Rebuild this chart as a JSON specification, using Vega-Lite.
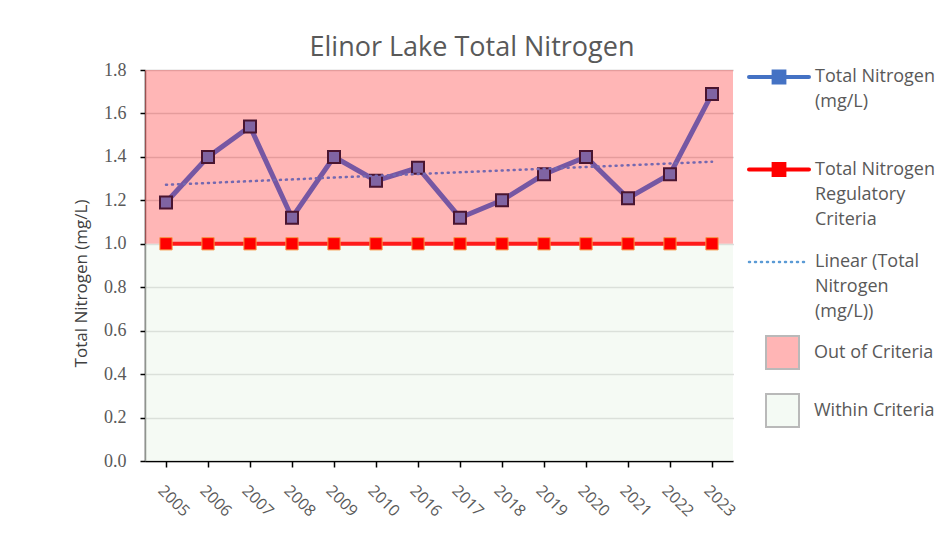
{
  "$schema": "https://vega.github.io/schema/vega-lite/v6.json",
  "width": 588,
  "height": 391,
  "autosize": "none",
  "padding": {"left": 145, "top": 70, "right": 205, "bottom": 86},
  "background": "white",
  "title": {
    "text": "Elinor Lake Total Nitrogen",
    "font": "Open Sans",
    "fontSize": 27,
    "fontWeight": "normal",
    "color": "#595959",
    "anchor": "middle",
    "dx": 33,
    "dy": 13,
    "offset": 12
  },
  "datasets": {
    "main": [
      {"year": "2005", "tn": 1.19, "criteria": 1.0},
      {"year": "2006", "tn": 1.40, "criteria": 1.0},
      {"year": "2007", "tn": 1.54, "criteria": 1.0},
      {"year": "2008", "tn": 1.12, "criteria": 1.0},
      {"year": "2009", "tn": 1.40, "criteria": 1.0},
      {"year": "2010", "tn": 1.29, "criteria": 1.0},
      {"year": "2016", "tn": 1.35, "criteria": 1.0},
      {"year": "2017", "tn": 1.12, "criteria": 1.0},
      {"year": "2018", "tn": 1.20, "criteria": 1.0},
      {"year": "2019", "tn": 1.32, "criteria": 1.0},
      {"year": "2020", "tn": 1.40, "criteria": 1.0},
      {"year": "2021", "tn": 1.21, "criteria": 1.0},
      {"year": "2022", "tn": 1.32, "criteria": 1.0},
      {"year": "2023", "tn": 1.69, "criteria": 1.0}
    ],
    "trend": [
      {"year": "2005", "trend": 1.272},
      {"year": "2023", "trend": 1.378}
    ],
    "zones": [
      {"zone": "Out of Criteria", "lo": 1.0, "hi": 1.8},
      {"zone": "Within Criteria", "lo": 0.0, "hi": 1.0}
    ],
    "series": [
      {"series": "Total Nitrogen (mg/L)"},
      {"series": "Total Nitrogen Regulatory Criteria"},
      {"series": "Linear (Total Nitrogen (mg/L))"}
    ]
  },
  "layer": [
    {
      "data": {"name": "zones"},
      "mark": {"type": "rect", "opacity": 0.6},
      "encoding": {
        "y": {
          "field": "lo", "type": "quantitative",
          "scale": {"domain": [0, 1.8], "nice": false, "zero": true},
          "axis": {
            "values": [0, 0.2, 0.4, 0.6, 0.8, 1.0, 1.2, 1.4, 1.6, 1.8],
            "format": ".1f",
            "title": "Total Nitrogen (mg/L)",
            "titleFont": "Open Sans",
            "titleFontSize": 17,
            "titleFontWeight": "normal",
            "titleColor": "#404040",
            "titleX": -55,
            "titleY": 213,
            "titleBaseline": "bottom",
            "labelFont": "Liberation Serif",
            "labelFontSize": 18,
            "labelColor": "#595959",
            "labelPadding": 14,
            "tickSize": 5,
            "tickColor": "#000000",
            "tickWidth": 1.5,
            "domainColor": "#000000",
            "domainWidth": 1.5,
            "grid": true,
            "gridColor": "#BEBEBE",
            "gridWidth": 1.5
          }
        },
        "y2": {"field": "hi"},
        "fill": {
          "field": "zone", "type": "nominal",
          "scale": {"domain": ["Out of Criteria", "Within Criteria"], "range": ["#FF8585", "#EEF7ED"]},
          "legend": {
            "orient": "none",
            "legendX": 620,
            "legendY": 265,
            "title": null,
            "symbolType": "square",
            "symbolSize": 1089,
            "symbolStrokeColor": "#8C8C8C",
            "symbolStrokeWidth": 2,
            "symbolOpacity": 0.6,
            "labelFont": "Open Sans",
            "labelFontSize": 18,
            "labelColor": "#595959",
            "labelOffset": 14,
            "rowPadding": 17,
            "encode": {
              "symbols": {
                "update": {
                  "opacity": {"value": 0.6},
                  "stroke": {"value": "#8C8C8C"}
                }
              }
            }
          }
        }
      }
    },
    {
      "data": {"name": "main"},
      "mark": {
        "type": "line",
        "color": "#7657A3",
        "strokeWidth": 5,
        "point": {"shape": "square", "filled": true, "fill": "#8064A2", "stroke": "#4A1530", "strokeWidth": 2, "size": 144, "opacity": 1}
      },
      "encoding": {
        "x": {
          "field": "year", "type": "ordinal",
          "scale": {"type": "point", "padding": 0.5},
          "axis": {
            "title": null,
            "labelAngle": 45,
            "labelAlign": "left",
            "labelBaseline": "top",
            "labelFont": "Open Sans",
            "labelFontSize": 16,
            "labelColor": "#595959",
            "labelPadding": 15,
            "tickSize": 6,
            "tickColor": "#000000",
            "tickWidth": 1.5,
            "domainColor": "#000000",
            "domainWidth": 1.5,
            "grid": false
          }
        },
        "y": {"field": "tn", "type": "quantitative"}
      }
    },
    {
      "data": {"name": "main"},
      "mark": {
        "type": "line",
        "color": "#FF1A1A",
        "strokeWidth": 4,
        "point": {"shape": "square", "filled": true, "fill": "#FF0000", "stroke": "#F79646", "strokeWidth": 1, "size": 150, "opacity": 1}
      },
      "encoding": {
        "x": {"field": "year", "type": "ordinal"},
        "y": {"field": "criteria", "type": "quantitative"}
      }
    },
    {
      "data": {"name": "trend"},
      "mark": {"type": "line", "color": "#7468B0", "strokeWidth": 2.5, "strokeDash": [1, 5], "strokeCap": "round"},
      "encoding": {
        "x": {"field": "year", "type": "ordinal"},
        "y": {"field": "trend", "type": "quantitative"}
      }
    },
    {
      "data": {"name": "series"},
      "mark": {"type": "line", "opacity": 0},
      "encoding": {
        "stroke": {
          "field": "series", "type": "nominal",
          "scale": {
            "domain": ["Total Nitrogen (mg/L)", "Total Nitrogen Regulatory Criteria", "Linear (Total Nitrogen (mg/L))"],
            "range": ["#4472C4", "#FF0000", "#5B9BD5"]
          },
          "legend": {
            "orient": "none",
            "legendX": 625,
            "legendY": -2,
            "title": null,
            "symbolSize": 3600,
            "symbolStrokeWidth": 4,
            "symbolOpacity": 1,
            "labelFont": "Open Sans",
            "labelFontSize": 18,
            "labelColor": "#595959",
            "labelOffset": 27,
            "labelLimit": 200,
            "labelBaseline": "top",
            "gridAlign": "all",
            "rowPadding": 19.5,
            "labelExpr": "datum.label == 'Total Nitrogen (mg/L)' ? ['Total Nitrogen', '(mg/L)'] : datum.label == 'Total Nitrogen Regulatory Criteria' ? ['Total Nitrogen', 'Regulatory', 'Criteria'] : ['Linear (Total', 'Nitrogen', '(mg/L))']",
            "encode": {
              "symbols": {
                "update": {
                  "shape": {"signal": "datum.value == 'Linear (Total Nitrogen (mg/L))' ? 'M-1,0L1,0' : 'M-1,0L-0.18,0M-0.18,-0.18L0.18,-0.18L0.18,0.18L-0.18,0.18ZM0.18,0L1,0'"},
                  "fill": {"signal": "datum.value == 'Total Nitrogen (mg/L)' ? '#4472C4' : datum.value == 'Total Nitrogen Regulatory Criteria' ? '#FF0000' : 'transparent'"},
                  "strokeDash": {"signal": "datum.value == 'Linear (Total Nitrogen (mg/L))' ? [1, 5] : [1, 0]"},
                  "strokeWidth": {"signal": "datum.value == 'Linear (Total Nitrogen (mg/L))' ? 2.5 : 4"},
                  "strokeCap": {"value": "round"},
                  "opacity": {"value": 1}
                }
              },
              "labels": {
                "update": {
                  "lineHeight": {"value": 25},
                  "dy": {"value": -9}
                }
              }
            }
          }
        }
      }
    }
  ],
  "config": {
    "view": {"stroke": null},
    "legend": {"padding": 0}
  }
}
